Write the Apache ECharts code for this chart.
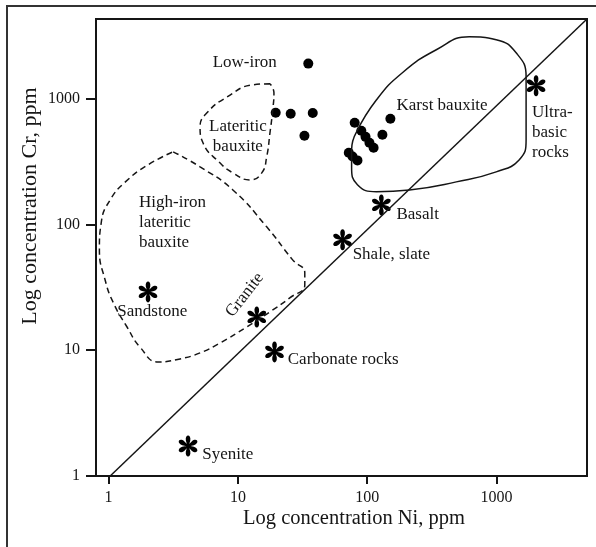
<!DOCTYPE html>
<html>
<head>
<meta charset="utf-8">
<script src="https://cdn.jsdelivr.net/npm/echarts@6/dist/echarts.min.js"></script>
<style>
html, body { margin: 0; padding: 0; background: #fff; }
#chart { width: 596px; height: 547px; }
</style>
</head>
<body>
<div id="chart"></div>
<script>
// decade ticks on both log axes
const tickValues = [1, 10, 100, 1000];

// bauxite samples, [Ni, Cr] in ppm
const lowIronDots = [[35, 1900], [19.6, 773], [25.6, 760], [37.9, 770], [32.7, 507]];
const karstDots = [[80, 643], [90, 556], [97, 497], [104, 446], [112, 407],
  [72, 371], [77, 347], [84, 323], [131, 516], [151, 692]];

// reference rocks (asterisks)
const rockNi = [2.02, 14, 19.2, 4.12, 64.5, 128.6, 2020];
const rockCr = [29.1, 18.4, 9.7, 1.73, 75.4, 143, 1267];

// Ni = Cr line
const oneToOne = [[1.03, 1], [5000, 4300]];

// field outlines, [Ni, Cr]
const karstField = [[82.7, 545], [118, 980], [187, 1607], [342, 2449], [614, 3106], [993, 2944],
  [1416, 2317], [1691, 1494], [1691, 816], [1691, 471], [1493, 326], [993, 262], [488, 218],
  [212, 188], [118, 182], [84, 207], [75.7, 287], [75.7, 392], [82.7, 545]];
const lateriticField = [[17.7, 1314], [13.1, 1290], [8.24, 1031], [5.77, 772], [5.1, 597],
  [5.37, 446], [7.26, 309], [9.15, 257], [12.4, 226], [15.3, 257], [16.7, 345], [17.7, 535],
  [18.6, 816], [19.0, 1114], [17.7, 1314]];
const highIronField = [[3.16, 378], [5.1, 287], [9.15, 188], [16.7, 95.7], [26.5, 52.3],
  [32.9, 41.2], [32.9, 33], [25.2, 26.1], [17.7, 20.2], [11.7, 15.3], [7.26, 11.4], [5.1, 9.52],
  [3.57, 8.53], [2.42, 8.07], [1.75, 10.6], [1.39, 15.3], [1.09, 23.8], [0.94, 36.3], [0.85, 62.8],
  [0.88, 105], [1.03, 157], [1.35, 218], [2.02, 298], [3.16, 378]];

// text annotations
const leftTexts = ['High-iron\nlateritic\nbauxite', 'Sandstone', 'Syenite', 'Carbonate rocks',
  'Shale, slate', 'Basalt', 'Ultra-\nbasic\nrocks'];
const leftTextAt = [[1.72, 103], [1.17, 20.2], [5.3, 1.47], [24.3, 8.37], [77.1, 57.3], [168, 119], [1880, 535]];
const centerTexts = ['Low-iron', 'Lateritic\nbauxite', 'Karst bauxite'];
const centerTextAt = [[11.3, 1932], [10, 498], [379, 878]];
const graniteText = 'Granite';
const graniteAt = [11.3, 27.5];

const serif = 'Liberation Serif';
const ink = '#151515';

function asteriskPath() {
  let d = '';
  for (let k = 0; k < 6; k++) {
    const a = k * Math.PI / 3, c = Math.cos(a), s = Math.sin(a);
    const pt = (x, y) => (50 + x * c - y * s).toFixed(2) + ' ' + (50 + x * s + y * c).toFixed(2);
    d += 'M' + pt(-2.5, 0) + 'L' + pt(-9, -22) + 'C' + pt(-13, -49) + ' ' + pt(13, -49) + ' ' + pt(9, -22) + 'L' + pt(2.5, 0) + 'Z';
  }
  return 'path://' + d;
}

function outline(data, dashed) {
  return {
    type: 'line', data: data, symbol: 'none', smooth: 0.5, silent: true,
    lineStyle: { color: ink, width: 1.5, type: dashed ? [6, 4] : 'solid' }
  };
}

function textSeries(texts, at, align, rotate) {
  return {
    type: 'scatter', symbolSize: 0, silent: true,
    itemStyle: { opacity: 1 },
    data: at.map((p, i) => ({ value: p, name: texts[i] })),
    label: {
      show: true, position: 'inside', formatter: '{b}', align: align, verticalAlign: 'middle',
      rotate: rotate || 0, fontFamily: serif, fontSize: 17, lineHeight: 20, color: ink, opacity: 1
    }
  };
}

function logAxis(min, max, tickLen, margin) {
  return {
    type: 'log', logBase: 10, min: min, max: max,
    axisLine: { show: true, lineStyle: { color: ink, width: 2 } },
    axisTick: { show: true, length: tickLen, customValues: tickValues, lineStyle: { color: ink, width: 2 } },
    axisLabel: {
      customValues: tickValues, margin: margin, fontFamily: serif, fontSize: 16, color: ink,
      formatter: v => String(Math.round(v))
    },
    splitLine: { show: false }
  };
}

const chart = echarts.init(document.getElementById('chart'));
chart.setOption({
  animation: false,
  backgroundColor: '#fff',
  grid: { left: 96, top: 19, right: 9, bottom: 71, show: true, borderColor: ink, borderWidth: 2 },
  xAxis: logAxis(0.8, 5000, 8, 14),
  yAxis: logAxis(1, 4300, 10, 16),
  graphic: [
    { type: 'rect', shape: { x: 7, y: 6, width: 620, height: 620 }, style: { fill: 'none', stroke: '#333', lineWidth: 2 }, z: -10 },
    { type: 'text', x: 354, y: 519, style: { text: 'Log concentration Ni, ppm', font: '20.5px "Liberation Serif"', fill: ink, textAlign: 'center', textVerticalAlign: 'middle' } },
    { type: 'text', x: 30, y: 206, rotation: Math.PI / 2, style: { text: 'Log concentration Cr, ppm', font: '22px "Liberation Serif"', fill: ink, textAlign: 'center', textVerticalAlign: 'middle' } }
  ],
  series: [
    { type: 'line', data: oneToOne, symbol: 'none', silent: true, lineStyle: { color: ink, width: 1.5 } },
    outline(karstField, false),
    outline(lateriticField, true),
    outline(highIronField, true),
    { type: 'scatter', data: lowIronDots.concat(karstDots), symbol: 'circle', symbolSize: 10, itemStyle: { color: '#000', opacity: 1 } },
    {
      type: 'scatter', data: rockNi.map((x, i) => [x, rockCr[i]]),
      symbol: asteriskPath(), symbolSize: 21, symbolKeepAspect: true, itemStyle: { color: '#000', opacity: 1 }
    },
    textSeries(leftTexts, leftTextAt, 'left'),
    textSeries(centerTexts, centerTextAt, 'center'),
    textSeries([graniteText], [graniteAt], 'center', 52)
  ]
});
</script>
</body>
</html>
